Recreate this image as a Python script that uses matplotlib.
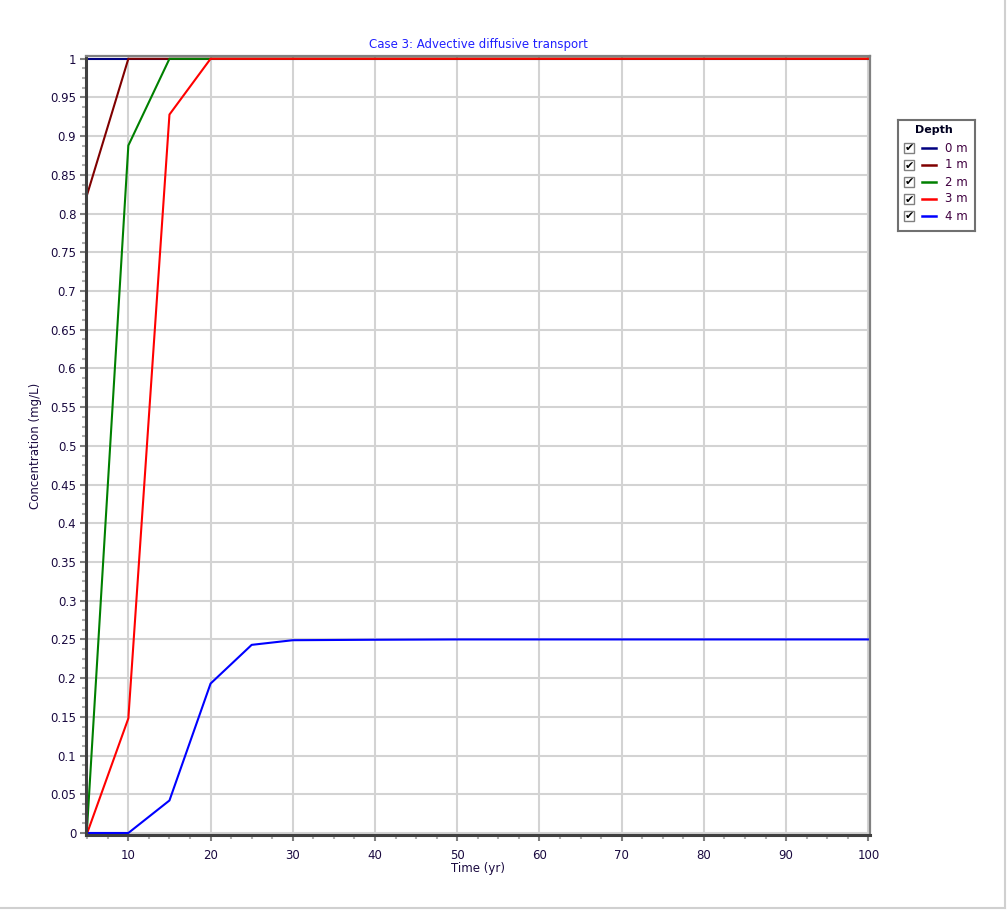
import matplotlib.pyplot as plt
from matplotlib import ticker
from matplotlib.patches import Rectangle

# Data
time_yr = [5, 10, 15, 20, 25, 30, 35, 40, 45, 50, 55, 60, 65, 70, 75, 80, 85, 90, 95, 100]
depth_0m = [1.0] * 20
depth_1m = [0.825] + [1.0] * 19
depth_2m = [0.01, 0.888] + [1.0] * 18
depth_3m = [0.0, 0.148, 0.928] + [1.0] * 17
depth_4m = [0.0, 0.0, 0.042, 0.193, 0.243, 0.249, 0.2493, 0.2496, 0.2498] + [0.25] * 11

series = [
    ('0 m', depth_0m, '#000080'),
    ('1 m', depth_1m, '#800000'),
    ('2 m', depth_2m, '#008000'),
    ('3 m', depth_3m, '#ff0000'),
    ('4 m', depth_4m, '#0000ff'),
]

txt_col = '#1a0a40'

fig = plt.figure(figsize=(10.07, 9.10), dpi=100)
W, H = 1007, 910
ax = fig.add_axes([86 / W, 1 - 835 / H, (870 - 86) / W, (835 - 56) / H])

for name, vals, col in series:
    ax.plot(time_yr, vals, color=col, lw=1.5, label=name, zorder=2, clip_on=False)

ax.set_xlim(4.85, 100.2)
ax.set_ylim(-0.0026, 1.0036)

ax.xaxis.set_major_locator(ticker.FixedLocator(range(10, 101, 10)))
ax.xaxis.set_minor_locator(ticker.MultipleLocator(2.5))
ax.yaxis.set_major_locator(ticker.MultipleLocator(0.05))
ax.yaxis.set_minor_locator(ticker.MultipleLocator(0.0125))
ax.yaxis.set_major_formatter(ticker.FuncFormatter(lambda v, p: f'{v:g}' if abs(v) > 1e-9 else '0'))

ax.grid(True, which='major', color='#d3d3d3', lw=1.5, zorder=0)
ax.tick_params(which='major', length=4, width=1.5, color='#808080', labelsize=8.5,
               labelcolor=txt_col, pad=3)
ax.tick_params(which='minor', length=3, width=1.5, color='#b0b0b0')
ax.tick_params(axis='x', pad=6)

for side in ('left', 'bottom'):
    ax.spines[side].set_color('#404040')
    ax.spines[side].set_linewidth(2.2)
for side in ('top', 'right'):
    ax.spines[side].set_color('#808080')
    ax.spines[side].set_linewidth(1.6)

ax.set_title('Case 3: Advective diffusive transport', fontsize=8.5, color='#2020ff', pad=6)
ax.set_xlabel('Time (yr)', fontsize=8.5, color=txt_col, labelpad=0)
ax.set_ylabel('Concentration (mg/L)', fontsize=8.5, color=txt_col, labelpad=6)

# Legend box with checkboxes, drawn in its own axes
lax = fig.add_axes([898 / W, 1 - 231 / H, (975 - 898) / W, (231 - 120) / H])
lax.set_xlim(898, 975)
lax.set_ylim(231, 120)
lax.set_xticks([])
lax.set_yticks([])
for sp in lax.spines.values():
    sp.set_color('#707070')
    sp.set_linewidth(1.5)
lax.text(934, 130, 'Depth', ha='center', va='center', fontsize=8, fontweight='bold', color='#000020')
for i, (name, vals, col) in enumerate(series):
    yy = 148 + i * 17
    lax.add_patch(Rectangle((904, yy - 5), 10, 10, fill=False, ec='#808080', lw=1))
    lax.text(909, yy + 0.5, '✔', ha='center', va='center', fontsize=8, fontweight='bold', color='black')
    lax.plot([922, 936], [yy, yy], color=col, lw=1.8)
    lax.text(945, yy, name, ha='left', va='center', fontsize=8.5, color='#400040')

# light frame on the right and bottom edges of the figure
fig.add_artist(plt.Line2D([1005 / W, 1005 / W], [1 - 908 / H, 1], color='#d0d0d0', lw=1.5))
fig.add_artist(plt.Line2D([0, 1005 / W], [1 - 908 / H, 1 - 908 / H], color='#d0d0d0', lw=1.5))

fig.savefig('out.png', dpi=100)
